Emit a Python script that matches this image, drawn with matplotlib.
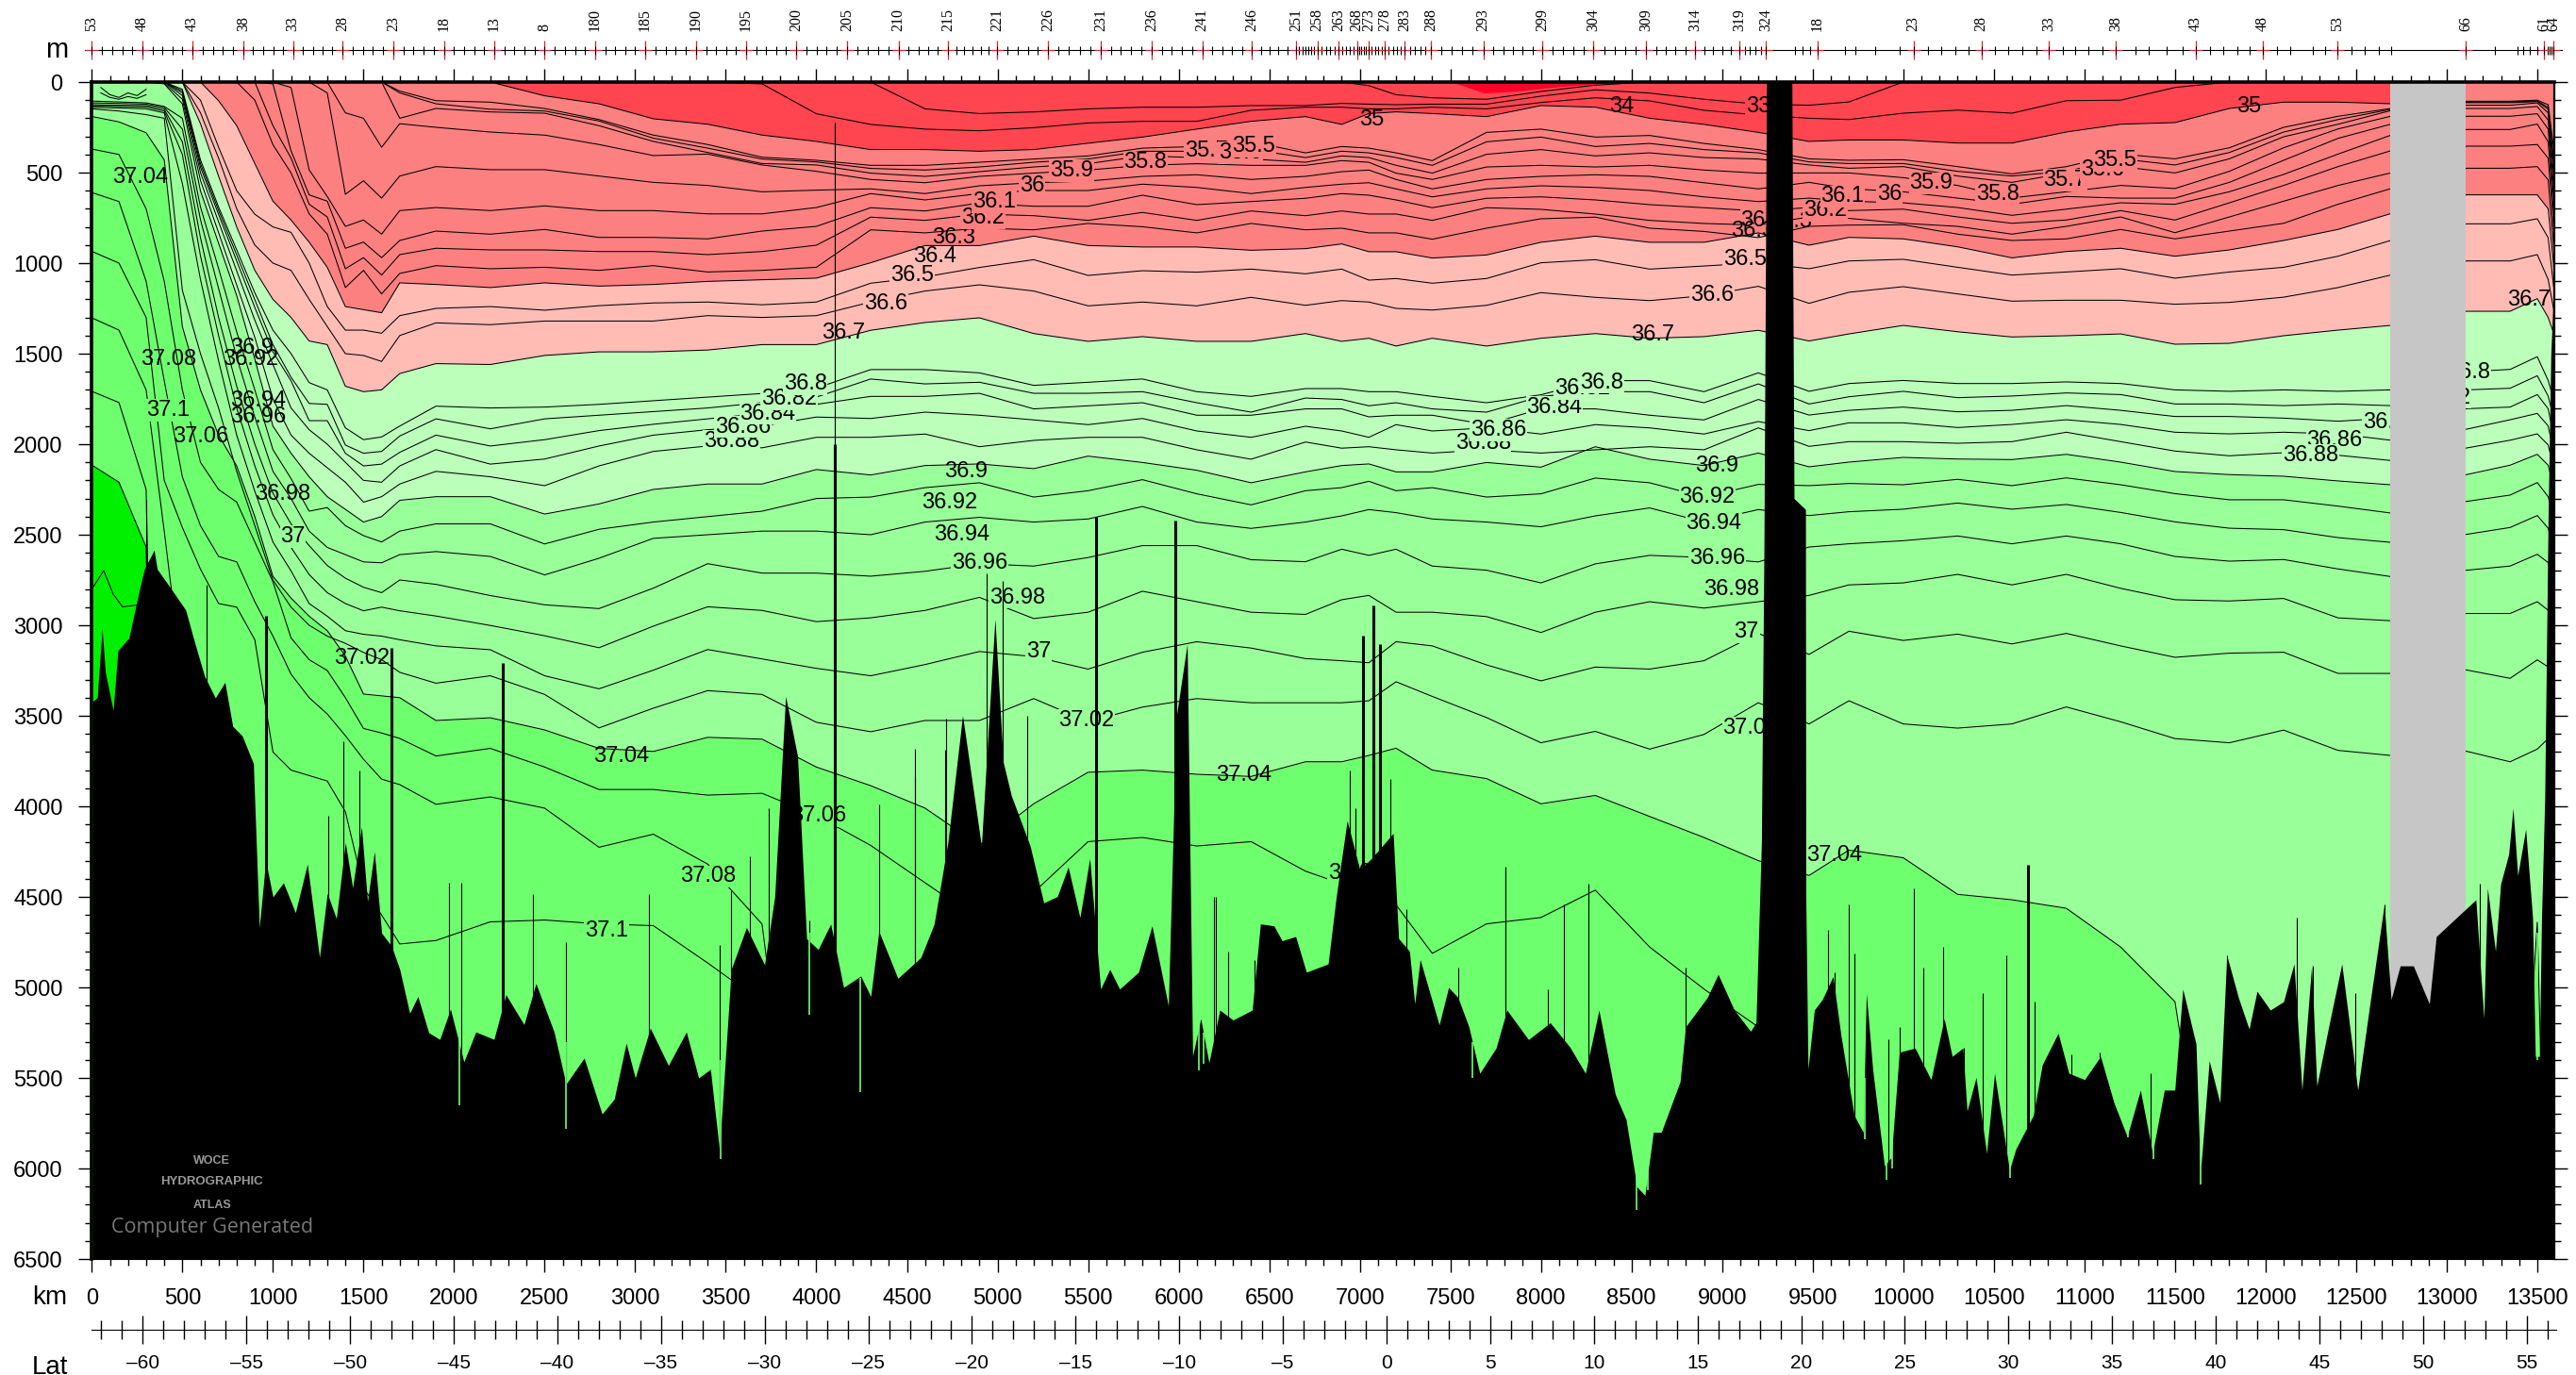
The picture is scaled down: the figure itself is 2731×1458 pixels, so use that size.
import numpy as np
import matplotlib
matplotlib.use('Agg')
import matplotlib.pyplot as plt

plt.rcParams['font.family'] = ['Liberation Sans', 'DejaVu Sans']

# distance knots the isolines were read at (km)
km_wedge = [0, 150, 300, 400, 500, 600, 700, 800, 900, 1000, 1100, 1200, 1300, 1400, 1500, 1600, 1700]
km_mid = [1900, 2200, 2500, 2800, 3100, 3400, 3700, 4000, 4300, 4600, 4900, 5200, 5500, 5800, 6100, 6400, 6700,
          6900, 7050, 7200, 7400, 7700, 8000, 8300, 8600, 8900, 9200]
km_right = [9480, 9700, 10000, 10300, 10600, 10900, 11200, 11500, 11800, 12100, 12400, 12690]
km_end = [13110, 13350, 13500, 13560, 13595]
km = km_wedge + km_mid + km_right + km_end

# isoline depths (m) on the knots above
s32 = [0]*17 + [0]*18 + [20, 70, 87, 95, 52, 17, 0, 0, 0] + [0]*12 + [0]*5
s33 = [0]*17 + [0]*9 + [148, 174, 165, 148, 139, 139, 130, 130, 118, 122, 125, 122, 122, 78, 43, 61, 95, 122] \
    + [128, 110, 0, 0, 0, 0, 0, 0, 0, 0, 0, 0] + [0]*5
s34 = [0]*17 + [0, 0, 0, 0, 0, 0, 10, 175, 234, 260, 269, 252, 226, 217, 217, 156, 139, 139, 148, 148, 139, 148, 113, 87, 104, 156, 182] \
    + [200, 207, 172, 155, 172, 103, 100, 30, 0, 0, 0, 0] + [0]*5
s35 = [0]*17 + [0, 0, 76, 120, 203, 233, 293, 328, 373, 373, 382, 373, 338, 304, 260, 217, 191, 234, 174, 165, 174, 191, 130, 139, 200, 234, 278] \
    + [328, 320, 320, 337, 337, 276, 233, 224, 146, 111, 111, 120] + [0]*5
s35_5 = [0]*16 + [50] + [103, 111, 146, 207, 293, 345, 415, 432, 460, 460, 443, 425, 408, 365, 356, 330, 391, 356, 365, 391, 434, 278, 260, 304, 295, 339, 373] \
    + [424, 432, 429, 467, 507, 467, 398, 424, 363, 250, 189, 146] + [106, 106, 100, 125, 400]
s35_6 = [0]*16 + [60] + [120, 150, 160, 215, 310, 365, 425, 441, 477, 486, 469, 443, 425, 382, 382, 373, 417, 382, 391, 417, 460, 330, 304, 356, 339, 373, 391] \
    + [441, 450, 450, 493, 519, 493, 424, 458, 389, 276, 207, 151] + [110, 110, 104, 140, 470]
s35_7 = [0]*16 + [200] + [146, 165, 172, 241, 328, 389, 450, 458, 503, 521, 495, 469, 451, 408, 417, 425, 443, 408, 417, 460, 503, 399, 373, 408, 391, 417, 425] \
    + [458, 476, 467, 519, 554, 502, 467, 502, 424, 302, 233, 158] + [114, 114, 108, 150, 500]
s35_8 = [0]*13 + [170, 200, 360, 230] + [250, 276, 293, 345, 406, 398, 458, 493, 538, 556, 521, 503, 486, 460, 451, 460, 460, 434, 443, 503, 538, 469, 460, 469, 460, 486, 503] \
    + [502, 502, 528, 571, 640, 606, 571, 588, 493, 363, 259, 189] + [128, 128, 115, 170, 560]
s35_9 = [0]*12 + [60, 620, 545, 641, 519] + [467, 484, 484, 519, 554, 571, 606, 597, 590, 616, 573, 556, 547, 521, 512, 538, 521, 495, 486, 538, 590, 538, 521, 512, 521, 556, 590] \
    + [554, 589, 606, 641, 675, 632, 641, 641, 554, 432, 311, 233] + [146, 146, 135, 210, 640]
s36 = [0]*10 + [30, 485, 632, 797, 762, 840, 710] + [693, 710, 684, 710, 710, 728, 728, 693, 616, 651, 616, 599, 599, 564, 582, 616, 582, 564, 556, 590, 634, 590, 573, 582, 599, 634, 660] \
    + [641, 658, 667, 693, 736, 702, 667, 675, 606, 510, 398, 294] + [189, 189, 175, 260, 700]
s36_1 = [0]*9 + [10, 380, 623, 658, 918, 884, 970, 875] + [823, 840, 814, 858, 858, 866, 823, 797, 694, 712, 668, 686, 686, 625, 677, 660, 642, 616, 625, 651, 694, 642, 634, 651, 677, 694, 712] \
    + [693, 710, 702, 745, 780, 762, 710, 762, 667, 571, 467, 380] + [262, 262, 232, 330, 780]
s36_2 = [0]*9 + [241, 420, 675, 745, 1031, 970, 1066, 953] + [918, 927, 927, 936, 936, 953, 936, 901, 746, 764, 729, 738, 764, 720, 764, 712, 738, 712, 729, 729, 764, 694, 703, 729, 764, 781, 790] \
    + [745, 753, 780, 797, 840, 797, 745, 832, 745, 658, 571, 502] + [354, 354, 345, 420, 860]
s36_3 = [0]*8 + [100, 346, 502, 728, 840, 1135, 1040, 1170, 1057] + [1014, 1031, 1023, 1040, 1014, 1049, 1040, 1023, 816, 833, 807, 816, 781, 799, 833, 781, 816, 807, 833, 833, 868, 807, 755, 746, 807, 825, 859] \
    + [797, 790, 788, 840, 875, 866, 814, 866, 823, 780, 675, 589] + [476, 476, 467, 540, 960]
s36_4 = [0]*6 + [103, 241, 450, 658, 762, 884, 1023, 1240, 1257, 1274, 1109] + [1118, 1135, 1109, 1127, 1118, 1101, 1092, 1083, 998, 903, 903, 851, 903, 911, 911, 929, 920, 894, 937, 937, 972, 955, 885, 851, 885, 885, 833] \
    + [901, 858, 866, 910, 971, 936, 918, 962, 927, 875, 814, 727] + [623, 623, 623, 700, 1060]
s36_5 = [0]*5 + [100, 360, 600, 730, 800, 830, 1000, 1240, 1370, 1370, 1387, 1290] + [1250, 1240, 1260, 1235, 1220, 1215, 1230, 1215, 1111, 1076, 1024, 981, 1068, 1042, 1050, 1033, 1059, 1033, 1094, 1085, 1111, 1085, 998, 981, 1033, 1016, 998] \
    + [1031, 988, 979, 1023, 1066, 1049, 1031, 1083, 1049, 1023, 962, 875] + [783, 783, 755, 860, 1170]
s36_6 = [0]*5 + [170, 420, 700, 900, 1000, 1040, 1200, 1350, 1500, 1510, 1543, 1400] + [1330, 1340, 1320, 1320, 1320, 1290, 1300, 1290, 1215, 1154, 1120, 1154, 1236, 1215, 1236, 1189, 1233, 1207, 1215, 1250, 1259, 1233, 1163, 1189, 1207, 1180, 1128] \
    + [1222, 1161, 1130, 1170, 1210, 1205, 1205, 1227, 1217, 1188, 1135, 1066] + [988, 988, 953, 1090, 1280]
s36_7 = [0]*5 + [230, 520, 800, 1040, 1200, 1300, 1430, 1450, 1680, 1710, 1700, 1610] + [1555, 1560, 1510, 1490, 1490, 1480, 1450, 1450, 1371, 1328, 1302, 1389, 1432, 1406, 1432, 1432, 1389, 1432, 1415, 1458, 1415, 1458, 1415, 1389, 1415, 1406, 1371] \
    + [1430, 1391, 1344, 1379, 1408, 1401, 1391, 1448, 1443, 1401, 1370, 1344] + [1266, 1266, 1196, 1300, 1400]
s36_80 = [0, 0, 0, 0, 40, 430, 690, 927, 1164, 1370, 1500, 1660, 1700, 1910, 1975, 1960, 1900] \
    + [1790, 1800, 1795, 1780, 1760, 1740, 1720, 1690, 1588, 1588, 1606, 1675, 1658, 1640, 1710, 1736, 1693, 1693, 1710, 1710, 1736, 1771, 1727, 1649, 1649, 1710, 1606] \
    + [1708, 1665, 1648, 1665, 1665, 1656, 1665, 1700, 1708, 1700, 1708, 1700] + [1600, 1587, 1517, 1648, 1770]
s36_82 = [0, 0, 0, 0, 50, 450, 709, 955, 1202, 1450, 1630, 1775, 1780, 2005, 2050, 2040, 1955] \
    + [1860, 1915, 1860, 1840, 1820, 1800, 1770, 1740, 1640, 1667, 1658, 1719, 1719, 1710, 1771, 1823, 1745, 1753, 1788, 1771, 1805, 1823, 1736, 1710, 1710, 1771, 1667] \
    + [1778, 1738, 1708, 1743, 1734, 1717, 1726, 1778, 1778, 1787, 1778, 1787] + [1700, 1691, 1622, 1734, 1873]
s36_84 = [0, 0, 0, 0, 60, 470, 731, 988, 1245, 1490, 1650, 1870, 1870, 2050, 2120, 2110, 2045] \
    + [1950, 2010, 1975, 1925, 1890, 1860, 1830, 1780, 1736, 1736, 1719, 1805, 1788, 1771, 1840, 1840, 1805, 1805, 1849, 1840, 1840, 1892, 1805, 1805, 1840, 1866, 1753] \
    + [1839, 1813, 1795, 1821, 1813, 1787, 1813, 1847, 1847, 1856, 1873, 1856] + [1804, 1795, 1726, 1804, 1977]
s36_86 = [0, 0, 0, 0, 75, 500, 772, 1043, 1315, 1560, 1800, 1920, 2000, 2100, 2200, 2210, 2120] \
    + [2030, 2110, 2082, 2010, 1950, 1920, 1900, 1850, 1858, 1823, 1840, 1866, 1892, 1858, 1927, 1962, 1901, 1927, 1962, 1892, 1927, 1910, 1944, 1892, 1910, 1944, 1875] \
    + [1925, 1882, 1882, 1908, 1891, 1865, 1891, 1934, 1943, 1934, 1943, 1978] + [1917, 1865, 1830, 1899, 2064]
s36_88 = [0, 0, 0, 5, 95, 543, 832, 1121, 1410, 1750, 1950, 2050, 2130, 2210, 2320, 2290, 2220] \
    + [2150, 2180, 2229, 2120, 2040, 2010, 2020, 1962, 1962, 1944, 2014, 1979, 1962, 1962, 2031, 2083, 1988, 2022, 2014, 2031, 2049, 2031, 2049, 2031, 2014, 2031, 1910] \
    + [2012, 1986, 1986, 1995, 1986, 1934, 1986, 2038, 2064, 2047, 2061, 2090] + [2021, 1978, 1943, 2004, 2151]
s36_90 = [0, 0, 0, 10, 120, 601, 890, 1179, 1530, 1900, 2050, 2180, 2290, 2360, 2430, 2400, 2310] \
    + [2290, 2290, 2386, 2330, 2250, 2220, 2220, 2140, 2170, 2118, 2109, 2135, 2066, 2101, 2144, 2213, 2153, 2118, 2109, 2153, 2153, 2101, 2127, 2014, 2083, 2118, 2049] \
    + [2125, 2099, 2073, 2082, 2085, 2056, 2099, 2151, 2168, 2177, 2203, 2224] + [2168, 2116, 2056, 2116, 2255]
s36_92 = [105, 110, 115, 135, 200, 690, 1030, 1380, 1700, 2030, 2190, 2370, 2350, 2450, 2505, 2540, 2480] \
    + [2440, 2440, 2551, 2470, 2430, 2400, 2370, 2300, 2292, 2240, 2213, 2292, 2257, 2196, 2274, 2335, 2257, 2240, 2205, 2257, 2240, 2292, 2274, 2187, 2213, 2292, 2222] \
    + [2229, 2217, 2224, 2194, 2229, 2186, 2224, 2273, 2307, 2307, 2342, 2380] + [2316, 2281, 2212, 2290, 2420]
s36_94 = [115, 118, 122, 140, 260, 760, 1140, 1520, 1850, 2150, 2300, 2480, 2570, 2610, 2650, 2655, 2610] \
    + [2593, 2620, 2722, 2630, 2520, 2500, 2480, 2480, 2500, 2430, 2404, 2430, 2413, 2344, 2430, 2465, 2430, 2396, 2361, 2378, 2413, 2430, 2456, 2396, 2352, 2430, 2361] \
    + [2394, 2373, 2359, 2325, 2359, 2333, 2377, 2429, 2464, 2472, 2516, 2542] + [2498, 2460, 2394, 2464, 2602]
s36_96 = [125, 128, 130, 150, 330, 860, 1300, 1680, 2000, 2270, 2440, 2560, 2670, 2740, 2790, 2820, 2750] \
    + [2774, 2836, 2887, 2908, 2795, 2660, 2712, 2712, 2729, 2702, 2660, 2673, 2626, 2560, 2560, 2638, 2649, 2580, 2614, 2580, 2673, 2696, 2766, 2661, 2614, 2626, 2650] \
    + [2568, 2550, 2533, 2507, 2550, 2507, 2550, 2620, 2646, 2637, 2689, 2731] + [2696, 2673, 2608, 2654, 2790]
s36_98 = [132, 135, 138, 160, 400, 960, 1400, 1800, 2120, 2390, 2570, 2720, 2820, 2880, 2920, 2900, 2920] \
    + [2949, 3001, 3058, 3124, 3005, 2898, 2918, 2980, 2959, 2918, 2846, 2963, 2928, 2812, 2870, 2928, 2940, 2859, 2835, 2928, 2928, 2952, 3040, 2928, 2870, 2905, 2870] \
    + [2835, 2777, 2766, 2719, 2777, 2719, 2796, 2859, 2866, 2852, 2959, 2975] + [2935, 2935, 2870, 2917, 3100]
s37_00 = [140, 143, 148, 170, 560, 1090, 1540, 1950, 2260, 2540, 2700, 2880, 2950, 3030, 3050, 3060, 3080] \
    + [3114, 3135, 3279, 3351, 3248, 3134, 3186, 3238, 3279, 3217, 3145, 3173, 3242, 3149, 3091, 3126, 3184, 3196, 3207, 3091, 3114, 3219, 3307, 3231, 3242, 3196, 3045] \
    + [3161, 3033, 3084, 3049, 3103, 3045, 3114, 3177, 3154, 3149, 3266, 3266] + [3247, 3293, 3191, 3230, 3400]
s37_02 = [148, 160, 180, 200, 1150, 1500, 1800, 2150, 2450, 2750, 2900, 3000, 3060, 3100, 3150, 3190, 3260] \
    + [3320, 3279, 3382, 3567, 3458, 3361, 3382, 3536, 3588, 3526, 3526, 3405, 3533, 3452, 3405, 3428, 3428, 3428, 3417, 3312, 3393, 3510, 3649, 3586, 3684, 3603, 3428] \
    + [3545, 3417, 3545, 3568, 3545, 3451, 3533, 3626, 3649, 3579, 3691, 3719] + [3696, 3754, 3684, 3626, 3800]
s37_04 = [190, 220, 280, 430, 1350, 1700, 1950, 2120, 2400, 2730, 2850, 2950, 3030, 3170, 3380, 3390, 3400] \
    + [3526, 3511, 3578, 3680, 3697, 3619, 3629, 3783, 3886, 4010, 4216, 3986, 3812, 3800, 3823, 3835, 3754, 3754, 3719, 3679, 3800, 3847, 3986, 3940, 4056, 4172, 4300] \
    + [4382, 4242, 4284, 4486, 4516, 4563, 4777, 5079, 7000, 7000, 7000, 7000] + [7000, 7000, 4640, 7000, 7000]
s37_06 = [370, 400, 700, 1100, 1700, 2100, 2250, 2320, 2540, 2760, 3070, 3190, 3250, 3400, 3570, 3595, 3625] \
    + [3722, 3680, 3783, 3907, 3907, 3938, 3928, 4051, 4216, 4422, 4628, 4475, 4195, 4172, 4219, 4195, 4358, 4428, 4475, 4544, 4812, 4649, 4614, 4463, 4777, 5009, 5219] \
    + [7000]*17
s37_08 = [610, 660, 1100, 1650, 2180, 2450, 2620, 2650, 2870, 3060, 3270, 3400, 3490, 3610, 3740, 3850, 3880] \
    + [3989, 3948, 4010, 4226, 4154, 4319, 4650] + [7000]*37
s37_10 = [935, 1000, 1300, 2200, 2460, 2690, 2880, 2900, 3080, 3700, 3800, 3830, 3860, 4030, 4450, 4600, 4760] \
    + [4741, 4638, 4628, 4649, 4659, 4865, 5081] + [7000]*37
s37_12 = [1302, 1370, 1700, 2480, 3300] + [7000]*56
s37_14 = [1708, 1770, 2250] + [7000]*58
s37_16 = [2115, 2210, 2568] + [7000]*58

# deepest closed contour in the core, and short near-surface lines at the far left
core_km = [5, 66, 118, 170, 248]
core_depth = [2793, 2698, 2828, 2898, 2889]
nsurf_km = [50, 100, 150, 200, 250, 300]
nsurf_c = [30, 70, 85, 60, 75, 40]
nsurf_d = [60, 85, 95, 80, 90, 70]
# fresh surface water patch
fresh_km = [7510, 7687, 7861, 8105, 8420]
fresh_depth = [0, 60, 50, 25, 0]

# sea floor, wall at the strait included
bath_km = [5, 30, 57, 75, 118, 144, 205, 266, 290, 344, 361, 422, 518, 561, 622, 682, 735, 778, 830, 892, 925, 960,
           1000, 1058, 1124, 1190, 1257, 1300, 1350, 1400, 1440, 1489, 1522, 1560, 1600, 1655, 1700, 1755, 1800, 1860,
           1921, 1980, 2054, 2120, 2220, 2286, 2386, 2452, 2552, 2618, 2718, 2817, 2884, 2950, 3000, 3083, 3183, 3282,
           3350, 3415, 3465, 3530, 3614, 3714, 3770, 3830, 3896, 3946, 4010, 4079, 4150, 4245, 4300, 4345, 4450, 4577,
           4650, 4726, 4807, 4911, 4986, 5031, 5076, 5180, 5255, 5330, 5390, 5455, 5509, 5569, 5620, 5674, 5778, 5853,
           5943, 5988, 6047, 6077, 6122, 6167, 6227, 6300, 6406, 6451, 6526, 6571, 6646, 6705, 6825, 6870, 6930, 7000,
           7064, 7184, 7214, 7274, 7303, 7333, 7438, 7490, 7542, 7602, 7662, 7752, 7812, 7931, 8051, 8160, 8245, 8320,
           8410, 8470, 8530, 8574, 8620, 8664, 8768, 8798, 8918, 8978, 9067, 9157, 9187, 9217, 9231, 9245, 9385, 9397,
           9460, 9462, 9474, 9509, 9553, 9612, 9656, 9729, 9779, 9796, 9831, 9896, 9934, 9978, 10065, 10153, 10226,
           10270, 10329, 10352, 10402, 10460, 10504, 10586, 10621, 10718, 10767, 10855, 10914, 11001, 11089, 11163,
           11236, 11309, 11376, 11441, 11499, 11543, 11616, 11640, 11689, 11748, 11786, 11850, 11909, 11953, 12026,
           12099, 12157, 12201, 12254, 12283, 12348, 12421, 12509, 12581, 12655, 12693, 12743, 12816, 12904, 12942,
           13161, 13205, 13225, 13269, 13298, 13342, 13366, 13392, 13436, 13474, 13489, 13512, 13523, 13541, 13560,
           13575, 13592, 13595]
bath_depth = [3420, 3400, 3020, 3260, 3470, 3140, 3070, 2790, 2690, 2585, 2690, 2776, 2915, 3071, 3280, 3401, 3315, 3558,
              3610, 3763, 4669, 4300, 4500, 4422, 4587, 4319, 4834, 4480, 4620, 4200, 4450, 4113, 4525, 4250, 4700, 4772,
              4900, 5143, 5050, 5250, 5287, 5120, 5411, 5246, 5287, 5040, 5205, 4978, 5246, 5534, 5390, 5699, 5617, 5308,
              5500, 5225, 5431, 5246, 5500, 5452, 5900, 4900, 4669, 4875, 4500, 3392, 3722, 4731, 4790, 4650, 5000, 4937,
              5050, 4690, 4950, 4834, 4650, 4200, 3498, 4219, 2963, 3754, 3940, 4219, 4533, 4498, 4335, 4614, 4288, 5009,
              4900, 5009, 4916, 4660, 5102, 3498, 3103, 5381, 5172, 5416, 5125, 5180, 5125, 4649, 4660, 4742, 4719, 4916,
              4870, 4498, 4079, 4350, 4288, 4149, 4730, 4800, 5091, 4846, 5207, 5000, 5056, 5218, 5474, 5335, 5125, 5288,
              5195, 5330, 5474, 5125, 5590, 5730, 6102, 6148, 5800, 5800, 5520, 5218, 5056, 4928, 5125, 5242, 5195, 4195,
              2568, 0, 0, 2300, 2360, 4500, 5451, 5125, 5067, 4940, 5265, 5707, 5800, 5032, 5451, 5986, 5939, 5358, 5335,
              5509, 5172, 5381, 5335, 5683, 5497, 5916, 5474, 6009, 5893, 5707, 5428, 5253, 5474, 5509, 5381, 5637, 5823,
              5567, 5916, 5567, 5567, 5009, 5312, 6032, 5405, 5637, 4823, 5056, 5230, 5021, 5125, 5079, 4870, 5567, 4881,
              5544, 5219, 4870, 5567, 5056, 4544, 5067, 4881, 4881, 5091, 4719, 4516, 5172, 4451, 4800, 4428, 4265, 4010,
              4382, 4126, 4614, 5381, 5381, 4637, 3963, 2400, 1500, 1100, 1100]
# narrow ridges poking above the sea floor
thin_spike_km = [300, 636, 1307, 1390, 1479, 1971, 2037, 2435, 2618, 3076, 3465, 3531, 3631, 3737, 3963, 4103, 4344, 4544,
                 4546, 4710, 4716, 4760, 4942, 5031, 5165, 6197, 6203, 6272, 6421, 6945, 6974, 7169, 7258, 7542, 7806,
                 8036, 8126, 8260, 8798, 9583, 9621, 9700, 9729, 9919, 9978, 10056, 10109, 10220, 10337, 10437, 10569,
                 10724, 10928, 11084, 11367, 11786, 12172, 12260, 12494, 12655, 13182]
thin_spike_top = [2308, 2776, 4051, 3640, 3804, 4422, 4422, 4484, 4752, 4484, 4768, 4463, 4278, 4010, 4628, 226, 3990, 3680,
                  3845, 3690, 3515, 4267, 2712, 2753, 3498, 4498, 4498, 4800, 4847, 3800, 4010, 3847, 4567, 4893, 4335,
                  5009, 4544, 4428, 4893, 4684, 4916, 4544, 4812, 5288, 5218, 4451, 4893, 4777, 5335, 5032, 4823,
                  5079, 5370, 5358, 5474, 4823, 4614, 4881, 5032, 4544, 4428]
thick_spike_km = [960, 1655, 2271, 4103, 5542, 5982, 7019, 7073, 7109, 10689]
thick_spike_top = [2950, 3124, 3210, 2000, 2400, 2421, 3056, 2893, 3103, 4323]
# narrow trenches cut into the sea floor
notch_km = [2030, 2620, 3470, 3960, 4240, 6110, 6135, 7620, 8530, 8590, 9790, 9905, 9940, 10590, 11240, 11380, 11640, 13500]
notch_top = [5100, 5300, 5400, 4700, 4950, 5200, 5250, 5300, 6000, 6000, 5500, 5700, 5700, 5800, 5600, 5700, 5700, 4700]
notch_bottom = [5650, 5780, 5950, 5150, 5580, 5460, 5420, 5500, 6230, 6120, 5840, 6060, 6000, 6050, 5830, 5950, 6090, 5400]

# contour labels
label_km = [7067, 8446, 9199, 11910, 267, 421, 883, 874, 421, 920, 920, 602, 1056, 1110, 1491, 2924, 3404, 2842,
            3531, 3595, 3731, 3849, 3939, 4148, 4384, 4529, 4656, 4756, 4919, 4982, 5191, 5408, 5816, 6152, 6340, 6414,
            4828, 4737, 4801, 4901, 5109, 5227, 5490, 6360, 4012, 6980,
            7680, 7766, 8074, 8228, 8337, 8618, 8945, 9126, 9222, 9170, 8972, 8918, 8954, 8972, 9054, 9135, 9157,
            9375, 9568, 9665, 9922, 10153, 10521, 10893, 11100, 11169, 13452, 13123, 12980, 12690, 12380, 12248, 9620]
label_depth = [208, 136, 136, 136, 526, 1532, 1469, 1532, 1813, 1759, 1849, 1958, 2276, 2511, 3182, 3726, 4388, 4687,
               1985, 1904, 1831, 1750, 1668, 1387, 1224, 1070, 961, 861, 752, 662, 571, 490, 444, 382, 390, 356,
               2149, 2321, 2502, 2656, 2847, 3146, 3527, 3826, 4051, 4370,
               1993, 1922, 1795, 1695, 1659, 1396, 1179, 979, 764, 825, 2121, 2294, 2439, 2629, 2801, 3037, 3568,
               770, 710, 632, 620, 559, 618, 542, 485, 432, 1205, 1604, 1743, 1882, 1977, 2060, 4270]
label_text = ['35', '34', '33', '35', '37.04', '37.08', '36.9', '36.92', '37.1', '36.94', '36.96', '37.06', '36.98', '37',
              '37.02', '37.04', '37.08', '37.1',
              '36.88', '36.86', '36.84', '36.82', '36.8', '36.7', '36.6', '36.5', '36.4', '36.3', '36.2', '36.1', '36',
              '35.9', '35.8', '35.7', '35.6', '35.5',
              '36.9', '36.92', '36.94', '36.96', '36.98', '37', '37.02', '37.04', '37.06', '37.06',
              '36.88', '36.86', '36.84', '36.82', '36.8', '36.7', '36.6', '36.5', '36.4', '36.3', '36.9', '36.92', '36.94',
              '36.96', '36.98', '37', '37.02',
              '36.3', '36.2', '36.1', '36', '35.9', '35.8', '35.7', '35.6', '35.5', '36.7', '36.8', '36.82', '36.84', '36.86',
              '36.88', '37.04']

# stations along the top
stn_km = [0, 280, 556, 836, 1111, 1383, 1665, 1944, 2222, 2500, 2779, 3055, 3336, 3612, 3888, 4169, 4454, 4726, 4998,
          5279, 5569, 5850, 6131, 6404, 6648, 6766, 6884, 6984, 7048, 7138, 7247, 7392, 7682, 8009, 8290, 8580, 8852,
          9097, 9242, 9525, 10057, 10432, 10802, 11172, 11615, 11985, 12396, 13105, 13539, 13589]
stn_label = ['53', '48', '43', '38', '33', '28', '23', '18', '13', '8', '180', '185', '190', '195', '200', '205', '210',
             '215', '221', '226', '231', '236', '241', '246', '251', '258', '263', '268', '273', '278', '283', '288', '293',
             '299', '304', '309', '314', '319', '324', '18', '23', '28', '33', '38', '43', '48', '53', '66', '61', '64']
stn_right_km = [9403, 9444, 9486, 9679, 9734, 9844, 9982, 10134, 10209, 10286, 10361, 10507, 10581, 10659, 10733, 10879,
                10948, 11023, 11100, 11280, 11354, 11453, 11542, 11694, 11768, 11845, 11914, 12061, 12135, 12259, 12328,
                12475, 12549, 12624, 12695, 13267, 13391, 13424, 13460, 13501, 13557, 13570, 13579]

lat_major = [-60, -55, -50, -45, -40, -35, -30, -25, -20, -15, -10, -5, 0, 5, 10, 15, 20, 25, 30, 35, 40, 45, 50, 55]
depth_ticks = [0, 500, 1000, 1500, 2000, 2500, 3000, 3500, 4000, 4500, 5000, 5500, 6000, 6500]

for name, line in list(globals().items()):
    if name.startswith('s3') and len(line) != len(km):
        raise ValueError(f'{name} has {len(line)} values, expected {len(km)}')

W, H = 2731, 1458


def rect(x0, y0, x1, y1):
    return [x0/W, 1 - y1/H, (x1 - x0)/W, (y1 - y0)/H]


fig = plt.figure(figsize=(W/100, H/100), dpi=100)
ax = fig.add_axes(rect(97.3, 87, 2708, 1335))
ax.set_xlim(0, 13594)
ax.set_ylim(6500, 0)

top_zero = [0]*len(km)
bands = [(top_zero, s35, '#FF4550'), (s35, s36_4, '#FC8080'), (s36_4, s36_7, '#FFBCB5'), (s36_7, s36_90, '#BBFFBB'),
         (s36_90, s37_04, '#99FF99'), (s37_04, s37_16, '#6EFF6E')]
for upper, lower, colour in bands:
    ax.fill_between(km, upper, lower, color=colour, lw=0, zorder=1)
ax.fill_between(km, s37_16, 7000, color='#00F000', lw=0, zorder=1)
ax.fill_between(fresh_km, 0, fresh_depth, color='#FF0028', lw=0, zorder=1.1)

contours = [s32, s33, s34, s35, s35_5, s35_6, s35_7, s35_8, s35_9, s36, s36_1, s36_2, s36_3, s36_4, s36_5, s36_6, s36_7,
            s36_80, s36_82, s36_84, s36_86, s36_88, s36_90, s36_92, s36_94, s36_96, s36_98, s37_00, s37_02, s37_04,
            s37_06, s37_08, s37_10, s37_12, s37_14, s37_16]
for line in contours:
    ax.plot(km, line, color='black', lw=0.75, zorder=2)
ax.plot(core_km, core_depth, color='black', lw=0.75, zorder=2)
for line in [nsurf_c, nsurf_d]:
    ax.plot(nsurf_km, line, color='black', lw=0.75, zorder=2)


def band_colour(x, d):
    for upper, lower, colour in bands:
        if d < np.interp(x, km, lower):
            return colour
    return '#00F000'


for x, d, txt in zip(label_km, label_depth, label_text):
    # the label masks the lines under it, unless it sits across a colour change
    half = 40*len(txt)
    corners = {band_colour(x + dx, d + dy) for dx in (-half, half) for dy in (-70, 70)}
    box = dict(facecolor=corners.pop(), edgecolor='none', pad=0.5) if len(corners) == 1 else None
    ax.text(x, d, txt, fontsize=17, ha='center', va='center', color='black', zorder=3, bbox=box)

# section with no data
ax.axvspan(12688, 13107, color='#C6C6C6', lw=0, zorder=4)

ax.fill_between(bath_km, bath_depth, 6500, color='black', lw=0, zorder=5)
ax.vlines(thin_spike_km, thin_spike_top, 6500, color='black', lw=0.8, zorder=6)
ax.vlines(thick_spike_km, thick_spike_top, 6500, color='black', lw=2.2, zorder=6)
ax.vlines(notch_km, notch_top, notch_bottom, color='#6EFF6E', lw=1.2, zorder=6.5)

ax.text(663, 5958, 'WOCE', color='#999999', fontsize=9, fontweight='bold', ha='center', va='center', zorder=7)
ax.text(663, 6073, 'HYDROGRAPHIC', color='#999999', fontsize=9.5, fontweight='bold', ha='center', va='center', zorder=7)
ax.text(663, 6203, 'ATLAS', color='#999999', fontsize=9, fontweight='bold', ha='center', va='center', zorder=7)
ax.text(663, 6328, 'Computer Generated', color='#777777', fontsize=15.5, family='Open Sans', ha='center', va='center', zorder=7)

ax.set_xticks(np.arange(0, 13501, 500))
ax.set_xticks(np.arange(0, 13594, 100), minor=True)
ax.set_yticks(depth_ticks)
ax.set_yticks(np.arange(0, 6501, 100), minor=True)
ax.tick_params(which='major', length=10, width=1, labelsize=17, top=True, right=True, direction='out', pad=12)
ax.tick_params(which='minor', length=5, width=1, top=True, right=True, direction='out')
for side, lw in [('top', 2.6), ('left', 2.6), ('right', 1.6), ('bottom', 0.8)]:
    ax.spines[side].set_linewidth(lw)
    ax.spines[side].set_zorder(10)

fig.text(60/W, 1 - 53/H, 'm', fontsize=21, ha='center', va='center')
fig.text(53/W, 1 - 1376/H, 'km', fontsize=20, ha='center', va='center')
fig.text(53/W, 1 - 1450/H, 'Lat', fontsize=20, ha='center', va='center')

# station strip, y in pixels round its centre line
st = fig.add_axes(rect(97.3, 40, 2708, 66))
st.set_xlim(0, 13594)
st.set_ylim(-13, 13)
st.axis('off')
st.plot([-40, 13637], [0, 0], color='black', lw=0.8, clip_on=False)
minor_km = list(stn_right_km)
for i in range(38):
    a, b = stn_label[i], stn_label[i + 1]
    steps = abs(int(b) - int(a))
    steps = 5 if steps > 20 else steps
    minor_km += list(np.linspace(stn_km[i], stn_km[i + 1], steps + 1)[1:-1])
st.vlines(minor_km, -4.5, 4.5, color='black', lw=0.8, clip_on=False)
st.hlines([0]*len(stn_km), np.array(stn_km) - 36, np.array(stn_km) + 36, color='#E8202A', lw=0.8, clip_on=False)
st.vlines(stn_km, -10, 10, color='#E8202A', lw=0.9, clip_on=False)
st.vlines(stn_km, -4.5, 4.5, color='black', lw=0.8, clip_on=False)
for x, txt in zip(stn_km, stn_label):
    st.text(x, 20, txt, rotation=90, ha='center', va='bottom', fontsize=11.5, family='Liberation Serif', clip_on=False)

# latitude scale
la = fig.add_axes(rect(97.3, 1409, 2710, 1410))
la.set_xlim(-62.46, 56.42)
la.set_ylim(0, 1)
for side in ['top', 'left', 'right']:
    la.spines[side].set_visible(False)
la.set_yticks([])
la.set_xticks(lat_major)
la.set_xticklabels([str(v).replace('-', '\u2013') for v in lat_major])
la.set_xticks(np.arange(-62, 57, 1), minor=True)
la.tick_params(which='major', direction='inout', length=21, width=1, labelsize=15, pad=8)
la.tick_params(which='minor', direction='inout', length=14, width=1)

fig.savefig('out.png', dpi=100)
